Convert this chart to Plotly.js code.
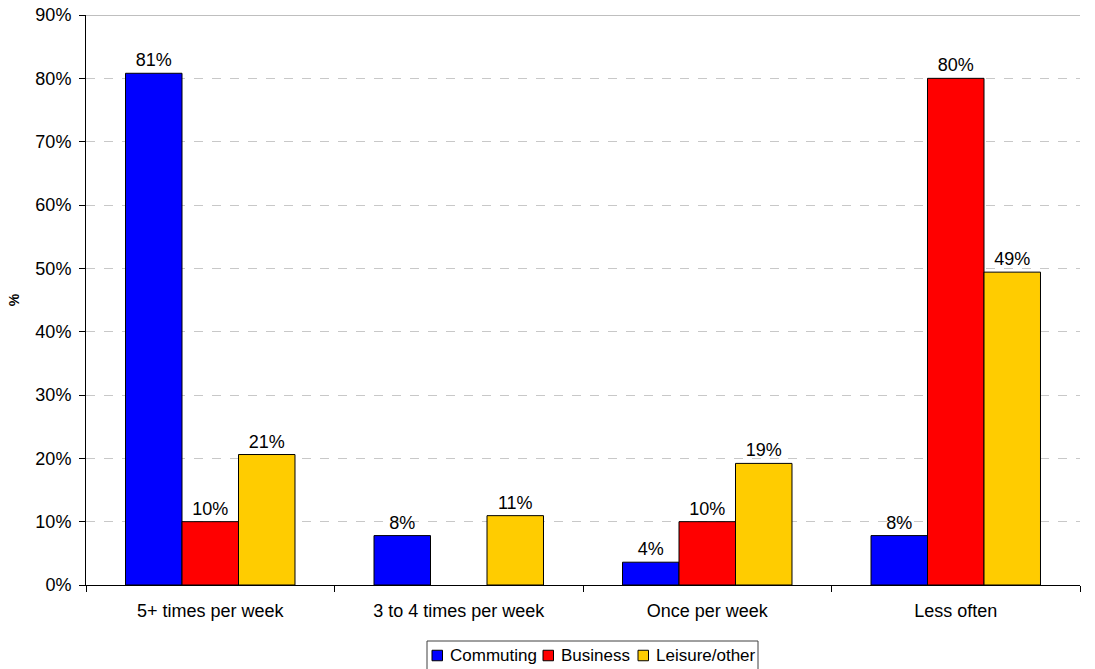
<!DOCTYPE html>
<html>
<head>
<meta charset="utf-8">
<script src="https://cdn.plot.ly/plotly-3.0.1.min.js"></script>
<style>
  html, body { margin: 0; padding: 0; background: #ffffff; }
  #chart { width: 1095px; height: 669px; }
</style>
</head>
<body>
<div id="chart"></div>
<script>
// Trip frequency by journey purpose (% of respondents)
const categories = ['5+ times per week', '3 to 4 times per week', 'Once per week', 'Less often'];
const commuting = [80.8, 7.8, 3.6, 7.8];
const business = [10.0, null, 10.0, 80.0];
const leisure = [20.6, 10.95, 19.2, 49.4];

const seriesNames = ['Commuting', 'Business', 'Leisure/other'];
const seriesColors = ['#0000FF', '#FF0000', '#FFCC00'];
const seriesValues = [commuting, business, leisure];

const FONT = 'Liberation Sans, Arial, Helvetica, sans-serif';

// Page geometry (pixels) for the plot area and the boxed legend beneath it
const W = 1095, H = 669;
const M = { l: 86, r: 15, t: 15, b: 84 };
const plotW = W - M.l - M.r;
const plotH = H - M.t - M.b;
const px = x => (x - M.l) / plotW;          // page x -> paper x
const py = y => (H - M.b - y) / plotH;      // page y -> paper y

const legendBox = { left: 427, right: 758, top: 641, bottom: 672 };
const legendSwatchLeft = [432, 543, 638];
const legendSwatchSize = 10.5;
const legendRowMid = 655.5;

const traces = seriesValues.map((vals, i) => ({
  type: 'bar',
  name: seriesNames[i],
  x: categories,
  y: vals,
  marker: { color: seriesColors[i], line: { color: '#000000', width: 1 } },
  text: vals.map(v => (v === null ? '' : Math.round(v) + '%')),
  textposition: 'outside',
  textfont: { family: FONT, size: 18, color: '#000000' },
  cliponaxis: false,
  hoverinfo: 'x+y+name'
}));

// Legend: frame, colour swatches and names
const shapes = [
  {
    type: 'line', xref: 'paper', yref: 'y',
    x0: 0, x1: 1, y0: 90, y1: 90,
    line: { color: '#808080', width: 1 }
  },
  {
    type: 'rect', xref: 'paper', yref: 'paper',
    x0: px(legendBox.left), x1: px(legendBox.right),
    y0: py(legendBox.top), y1: py(legendBox.bottom),
    line: { color: '#404040', width: 1 }, fillcolor: '#ffffff'
  }
];
const annotations = [];
seriesNames.forEach((name, i) => {
  const sx = legendSwatchLeft[i];
  shapes.push({
    type: 'rect', xref: 'paper', yref: 'paper',
    x0: px(sx), x1: px(sx + legendSwatchSize),
    y0: py(legendRowMid - legendSwatchSize / 2), y1: py(legendRowMid + legendSwatchSize / 2),
    line: { color: '#000000', width: 1 }, fillcolor: seriesColors[i]
  });
  annotations.push({
    xref: 'paper', yref: 'paper',
    x: px(sx + legendSwatchSize + 5), y: py(legendRowMid),
    xanchor: 'left', yanchor: 'middle',
    text: name, showarrow: false,
    font: { family: FONT, size: 17, color: '#000000' }
  });
});

const layout = {
  width: W,
  height: H,
  margin: { l: M.l, r: M.r, t: M.t, b: M.b, autoexpand: false },
  paper_bgcolor: '#ffffff',
  plot_bgcolor: '#ffffff',
  font: { family: FONT, size: 18, color: '#000000' },
  barmode: 'group',
  bargap: 0.318,
  bargroupgap: 0,
  showlegend: false,
  xaxis: {
    type: 'category',
    tickson: 'boundaries',
    ticks: 'outside',
    ticklen: 6,
    tickcolor: '#000000',
    ticklabelstandoff: 9,
    showline: true,
    linecolor: '#000000',
    linewidth: 1,
    showgrid: false,
    zeroline: false,
    tickfont: { family: FONT, size: 18, color: '#000000' }
  },
  yaxis: {
    range: [0, 90],
    dtick: 10,
    ticksuffix: '%',
    ticks: 'outside',
    ticklen: 6,
    tickcolor: '#000000',
    ticklabelstandoff: 4,
    showline: true,
    linecolor: '#000000',
    linewidth: 1,
    showgrid: true,
    gridcolor: '#c8c8c8',
    griddash: 'dash',
    gridwidth: 1,
    zeroline: false,
    tickfont: { family: FONT, size: 18, color: '#000000' },
    title: {
      text: '<b>%</b>',
      font: { family: FONT, size: 14, color: '#000000' },
      standoff: 12
    }
  },
  shapes: shapes,
  annotations: annotations
};

Plotly.newPlot('chart', traces, layout, { displayModeBar: false, staticPlot: true });
</script>
</body>
</html>
